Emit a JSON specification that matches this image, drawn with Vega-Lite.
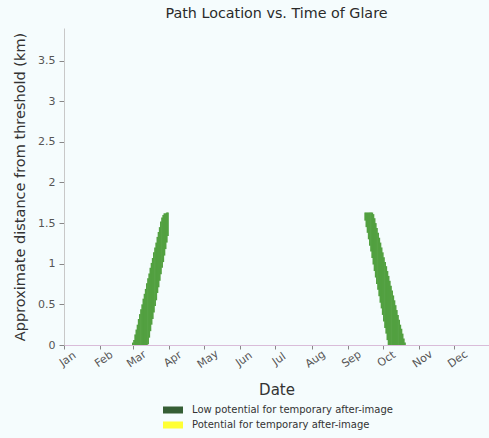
{
  "$schema": "https://vega.github.io/schema/vega-lite/v6.json",
  "width": 425,
  "height": 317,
  "autosize": {"type": "none"},
  "padding": {"left": 64, "top": 28, "right": 0, "bottom": 93},
  "background": "#f5fcfd",
  "title": {
    "text": "Path Location vs. Time of Glare",
    "fontSize": 14.3,
    "fontWeight": "normal",
    "color": "#2a2a2a",
    "font": "DejaVu Sans",
    "offset": 7
  },
  "config": {
    "font": "DejaVu Sans",
    "view": {"stroke": null}
  },
  "data": {
    "values": [
      {"date": "2021-03-01", "lo": 0, "hi": 0.03, "potential": "Low potential for temporary after-image"},
      {"date": "2021-03-02", "lo": 0, "hi": 0.06, "potential": "Low potential for temporary after-image"},
      {"date": "2021-03-03", "lo": 0, "hi": 0.13, "potential": "Low potential for temporary after-image"},
      {"date": "2021-03-04", "lo": 0, "hi": 0.19, "potential": "Low potential for temporary after-image"},
      {"date": "2021-03-05", "lo": 0, "hi": 0.25, "potential": "Low potential for temporary after-image"},
      {"date": "2021-03-06", "lo": 0, "hi": 0.32, "potential": "Low potential for temporary after-image"},
      {"date": "2021-03-07", "lo": 0, "hi": 0.38, "potential": "Low potential for temporary after-image"},
      {"date": "2021-03-08", "lo": 0, "hi": 0.44, "potential": "Low potential for temporary after-image"},
      {"date": "2021-03-09", "lo": 0, "hi": 0.50, "potential": "Low potential for temporary after-image"},
      {"date": "2021-03-10", "lo": 0, "hi": 0.57, "potential": "Low potential for temporary after-image"},
      {"date": "2021-03-11", "lo": 0, "hi": 0.63, "potential": "Low potential for temporary after-image"},
      {"date": "2021-03-12", "lo": 0, "hi": 0.69, "potential": "Low potential for temporary after-image"},
      {"date": "2021-03-13", "lo": 0, "hi": 0.76, "potential": "Low potential for temporary after-image"},
      {"date": "2021-03-14", "lo": 0.01, "hi": 0.82, "potential": "Low potential for temporary after-image"},
      {"date": "2021-03-15", "lo": 0.09, "hi": 0.88, "potential": "Low potential for temporary after-image"},
      {"date": "2021-03-16", "lo": 0.17, "hi": 0.95, "potential": "Low potential for temporary after-image"},
      {"date": "2021-03-17", "lo": 0.25, "hi": 1.01, "potential": "Low potential for temporary after-image"},
      {"date": "2021-03-18", "lo": 0.32, "hi": 1.07, "potential": "Low potential for temporary after-image"},
      {"date": "2021-03-19", "lo": 0.40, "hi": 1.14, "potential": "Low potential for temporary after-image"},
      {"date": "2021-03-20", "lo": 0.48, "hi": 1.20, "potential": "Low potential for temporary after-image"},
      {"date": "2021-03-21", "lo": 0.55, "hi": 1.26, "potential": "Low potential for temporary after-image"},
      {"date": "2021-03-22", "lo": 0.64, "hi": 1.33, "potential": "Low potential for temporary after-image"},
      {"date": "2021-03-23", "lo": 0.71, "hi": 1.39, "potential": "Low potential for temporary after-image"},
      {"date": "2021-03-24", "lo": 0.79, "hi": 1.45, "potential": "Low potential for temporary after-image"},
      {"date": "2021-03-25", "lo": 0.87, "hi": 1.52, "potential": "Low potential for temporary after-image"},
      {"date": "2021-03-26", "lo": 0.95, "hi": 1.57, "potential": "Low potential for temporary after-image"},
      {"date": "2021-03-27", "lo": 1.02, "hi": 1.60, "potential": "Low potential for temporary after-image"},
      {"date": "2021-03-28", "lo": 1.10, "hi": 1.62, "potential": "Low potential for temporary after-image"},
      {"date": "2021-03-29", "lo": 1.18, "hi": 1.62, "potential": "Low potential for temporary after-image"},
      {"date": "2021-03-30", "lo": 1.26, "hi": 1.63, "potential": "Low potential for temporary after-image"},
      {"date": "2021-03-31", "lo": 1.34, "hi": 1.63, "potential": "Low potential for temporary after-image"},
      {"date": "2021-09-16", "lo": 1.53, "hi": 1.63, "potential": "Low potential for temporary after-image"},
      {"date": "2021-09-17", "lo": 1.45, "hi": 1.63, "potential": "Low potential for temporary after-image"},
      {"date": "2021-09-18", "lo": 1.38, "hi": 1.63, "potential": "Low potential for temporary after-image"},
      {"date": "2021-09-19", "lo": 1.30, "hi": 1.63, "potential": "Low potential for temporary after-image"},
      {"date": "2021-09-20", "lo": 1.22, "hi": 1.63, "potential": "Low potential for temporary after-image"},
      {"date": "2021-09-21", "lo": 1.15, "hi": 1.63, "potential": "Low potential for temporary after-image"},
      {"date": "2021-09-22", "lo": 1.07, "hi": 1.63, "potential": "Low potential for temporary after-image"},
      {"date": "2021-09-23", "lo": 0.99, "hi": 1.61, "potential": "Low potential for temporary after-image"},
      {"date": "2021-09-24", "lo": 0.91, "hi": 1.56, "potential": "Low potential for temporary after-image"},
      {"date": "2021-09-25", "lo": 0.83, "hi": 1.50, "potential": "Low potential for temporary after-image"},
      {"date": "2021-09-26", "lo": 0.75, "hi": 1.44, "potential": "Low potential for temporary after-image"},
      {"date": "2021-09-27", "lo": 0.68, "hi": 1.38, "potential": "Low potential for temporary after-image"},
      {"date": "2021-09-28", "lo": 0.60, "hi": 1.32, "potential": "Low potential for temporary after-image"},
      {"date": "2021-09-29", "lo": 0.52, "hi": 1.26, "potential": "Low potential for temporary after-image"},
      {"date": "2021-09-30", "lo": 0.45, "hi": 1.20, "potential": "Low potential for temporary after-image"},
      {"date": "2021-10-01", "lo": 0.37, "hi": 1.14, "potential": "Low potential for temporary after-image"},
      {"date": "2021-10-02", "lo": 0.29, "hi": 1.08, "potential": "Low potential for temporary after-image"},
      {"date": "2021-10-03", "lo": 0.21, "hi": 1.02, "potential": "Low potential for temporary after-image"},
      {"date": "2021-10-04", "lo": 0.14, "hi": 0.97, "potential": "Low potential for temporary after-image"},
      {"date": "2021-10-05", "lo": 0.06, "hi": 0.91, "potential": "Low potential for temporary after-image"},
      {"date": "2021-10-06", "lo": 0, "hi": 0.85, "potential": "Low potential for temporary after-image"},
      {"date": "2021-10-07", "lo": 0, "hi": 0.79, "potential": "Low potential for temporary after-image"},
      {"date": "2021-10-08", "lo": 0, "hi": 0.73, "potential": "Low potential for temporary after-image"},
      {"date": "2021-10-09", "lo": 0, "hi": 0.67, "potential": "Low potential for temporary after-image"},
      {"date": "2021-10-10", "lo": 0, "hi": 0.61, "potential": "Low potential for temporary after-image"},
      {"date": "2021-10-11", "lo": 0, "hi": 0.55, "potential": "Low potential for temporary after-image"},
      {"date": "2021-10-12", "lo": 0, "hi": 0.49, "potential": "Low potential for temporary after-image"},
      {"date": "2021-10-13", "lo": 0, "hi": 0.43, "potential": "Low potential for temporary after-image"},
      {"date": "2021-10-14", "lo": 0, "hi": 0.37, "potential": "Low potential for temporary after-image"},
      {"date": "2021-10-15", "lo": 0, "hi": 0.31, "potential": "Low potential for temporary after-image"},
      {"date": "2021-10-16", "lo": 0, "hi": 0.25, "potential": "Low potential for temporary after-image"},
      {"date": "2021-10-17", "lo": 0, "hi": 0.20, "potential": "Low potential for temporary after-image"},
      {"date": "2021-10-18", "lo": 0, "hi": 0.14, "potential": "Low potential for temporary after-image"},
      {"date": "2021-10-19", "lo": 0, "hi": 0.08, "potential": "Low potential for temporary after-image"},
      {"date": "2021-10-20", "lo": 0, "hi": 0.03, "potential": "Low potential for temporary after-image"}
    ]
  },
  "mark": {"type": "rule", "strokeWidth": 1.8, "color": "#52a040"},
  "encoding": {
    "x": {
      "field": "date",
      "type": "temporal",
      "title": "Date",
      "scale": {
        "type": "utc",
        "domain": [
          {"year": 2021, "month": 1, "date": 1, "utc": true},
          {"year": 2021, "month": 12, "date": 31, "utc": true}
        ]
      },
      "axis": {
        "format": "%b",
        "tickCount": {"interval": "month", "step": 1},
        "labelAngle": -35,
        "labelAlign": "center",
        "labelBaseline": "top",
        "labelPadding": 5,
        "labelFontSize": 11,
        "labelColor": "#555555",
        "labelFlush": false,
        "labelOverlap": false,
        "tickColor": "#888888",
        "tickSize": 4,
        "domainColor": "#d9bcd9",
        "grid": false,
        "titleFontSize": 15,
        "titleFontWeight": "normal",
        "titleColor": "#333333",
        "titlePadding": 13
      }
    },
    "y": {
      "field": "lo",
      "type": "quantitative",
      "title": "Approximate distance from threshold (km)",
      "scale": {"domain": [0, 3.9], "nice": false},
      "axis": {
        "values": [0, 0.5, 1, 1.5, 2, 2.5, 3, 3.5],
        "format": "~g",
        "labelFontSize": 11,
        "labelColor": "#555555",
        "labelPadding": 4,
        "tickColor": "#888888",
        "tickSize": 5,
        "domainColor": "#c8c8c8",
        "grid": false,
        "titleFontSize": 14.5,
        "titleFontWeight": "normal",
        "titleColor": "#333333",
        "titlePadding": 10
      }
    },
    "y2": {"field": "hi"},
    "fill": {
      "field": "potential",
      "type": "nominal",
      "scale": {
        "domain": ["Low potential for temporary after-image", "Potential for temporary after-image"],
        "range": ["#355e35", "#ffff33"]
      },
      "legend": {
        "title": null,
        "orient": "none",
        "legendX": 99,
        "legendY": 372,
        "symbolType": "M-1,-0.35L1,-0.35L1,0.35L-1,0.35Z",
        "symbolSize": 400,
        "symbolStrokeWidth": 0,
        "symbolOpacity": 1,
        "labelFontSize": 10,
        "labelColor": "#333333",
        "labelOffset": 9,
        "labelLimit": 400,
        "rowPadding": -9
      }
    }
  }
}
